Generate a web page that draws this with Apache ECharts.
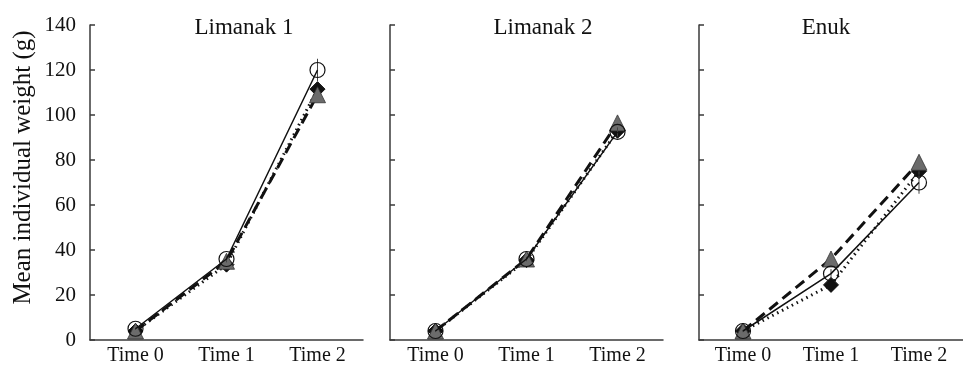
<!DOCTYPE html>
<html>
<head>
<meta charset="utf-8">
<script src="https://cdn.jsdelivr.net/npm/echarts@6/dist/echarts.min.js"></script>
<style>
  html, body { margin: 0; padding: 0; background: #fff; }
  #chart { width: 963px; height: 371px; }
</style>
</head>
<body>
<div id="chart"></div>
<script>
// values
var times = ['Time 0', 'Time 1', 'Time 2']
var sites = ['Limanak 1', 'Limanak 2', 'Enuk']
var yTicks = [0, 20, 40, 60, 80, 100, 120, 140]

// open circles, solid line
var circleVals = [[5, 36, 120], [4, 36, 92.5], [4, 29.5, 70]]
var circleErr = [[0.5, 1.5, 5], [0.5, 1, 2], [0.5, 2, 5]]
// black diamonds, dotted line
var diamondVals = [[4, 33.5, 111.5], [4, 35.5, 93], [4, 24.5, 75]]
// grey triangles, dashed line
var triangleVals = [[4, 35, 109], [4, 36, 96.5], [4, 36, 79]]

var grids = [
  { left: 90, width: 273, top: 25, bottom: 31 },
  { left: 390, width: 273, top: 25, bottom: 31 },
  { left: 699, width: 264, top: 25, bottom: 31 }
]
var titleX = [239, 538, 821]

var font = 'Liberation Serif'
var axisColor = '#3a3a3a'
var myChart = echarts.init(document.getElementById('chart'))

var xAxes = []
var yAxes = []
var series = []
var titles = []

sites.forEach(function (name, i) {
  titles.push({
    text: name,
    left: titleX[i],
    top: 11,
    textAlign: 'center',
    textStyle: { fontFamily: font, fontSize: 23, fontWeight: 'normal', color: '#111' }
  })
  xAxes.push({
    type: 'category',
    gridIndex: i,
    data: times,
    axisTick: { show: false },
    axisLine: { lineStyle: { color: axisColor, width: 1.5 } },
    axisLabel: { fontFamily: font, fontSize: 20, color: '#111', margin: 6 }
  })
  yAxes.push({
    type: 'value',
    gridIndex: i,
    min: yTicks[0],
    max: yTicks[yTicks.length - 1],
    interval: 20,
    splitLine: { show: false },
    axisLine: { show: true, lineStyle: { color: axisColor, width: 1.5 } },
    axisTick: { show: true, inside: true, length: 5, lineStyle: { color: axisColor, width: 1.5 } },
    axisLabel: { show: i === 0, fontFamily: font, fontSize: 21, color: '#111', margin: 14 },
    name: i === 0 ? 'Mean individual weight (g)' : '',
    nameLocation: 'middle',
    nameGap: 54,
    nameTextStyle: { fontFamily: font, fontSize: 25, color: '#111', padding: [0, 0, 0, 30] }
  })
  series.push({
    type: 'line',
    xAxisIndex: i,
    yAxisIndex: i,
    data: diamondVals[i],
    symbol: 'diamond',
    symbolSize: 15,
    itemStyle: { color: '#111', borderColor: '#111' },
    lineStyle: { color: '#111', width: 3, type: [1.5, 4] },
    z: 2
  })
  series.push({
    type: 'line',
    xAxisIndex: i,
    yAxisIndex: i,
    data: triangleVals[i],
    symbol: 'triangle',
    symbolSize: 16,
    itemStyle: { color: '#6b6b6b', borderColor: '#333', borderWidth: 0.8 },
    lineStyle: { color: '#111', width: 3, type: [11, 6] },
    z: 3
  })
  series.push({
    type: 'custom',
    xAxisIndex: i,
    yAxisIndex: i,
    data: circleVals[i].map(function (v, k) { return [k, v - circleErr[i][k], v + circleErr[i][k]] }),
    renderItem: function (params, api) {
      var lo = api.coord([api.value(0), api.value(1)])
      var hi = api.coord([api.value(0), api.value(2)])
      return {
        type: 'line',
        shape: { x1: lo[0], y1: lo[1], x2: hi[0], y2: hi[1] },
        style: { stroke: '#444', lineWidth: 1 }
      }
    },
    z: 4
  })
  series.push({
    type: 'line',
    xAxisIndex: i,
    yAxisIndex: i,
    data: circleVals[i],
    symbol: 'circle',
    symbolSize: 15,
    itemStyle: { color: 'rgba(255,255,255,0)', borderColor: '#111', borderWidth: 1.2 },
    lineStyle: { color: '#111', width: 1.5 },
    z: 5
  })
})

var option = {
  animation: false,
  backgroundColor: '#fff',
  title: titles,
  grid: grids,
  xAxis: xAxes,
  yAxis: yAxes,
  series: series
}
myChart.setOption(option)
</script>
</body>
</html>
